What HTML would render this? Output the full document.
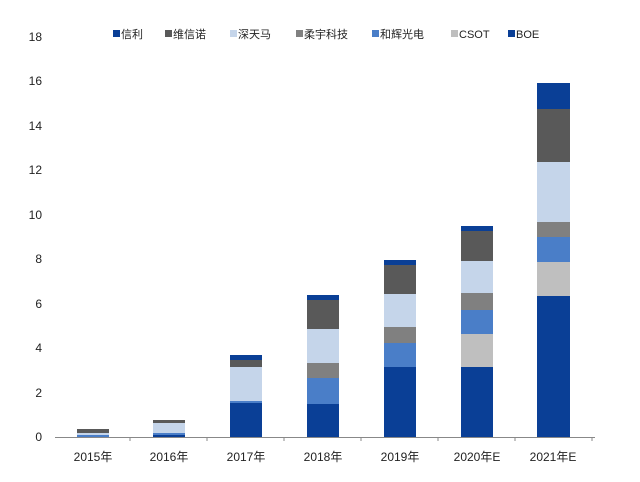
<!DOCTYPE html><html><head><meta charset="utf-8"><style>body{margin:0;background:#fff}svg{display:block}text{font-family:"Liberation Sans","Noto Sans CJK SC",sans-serif}</style></head><body>
<svg width="640" height="482" xmlns="http://www.w3.org/2000/svg">
<g font-size="12" fill="#222" text-anchor="end">
<text x="42" y="441">0</text><text x="42" y="397">2</text><text x="42" y="352">4</text><text x="42" y="308">6</text><text x="42" y="263">8</text><text x="42" y="219">10</text><text x="42" y="174">12</text><text x="42" y="130">14</text><text x="42" y="85">16</text><text x="42" y="41">18</text>
</g>
<g id="bars">
<!-- 2015 -->
<rect x="77" y="429" width="32" height="4" fill="#595959"/><rect x="77" y="433" width="32" height="2" fill="#c5d5ea"/><rect x="77" y="435" width="32" height="2" fill="#4a7ec8"/>
<!-- 2016 -->
<rect x="153" y="420" width="32" height="3" fill="#595959"/><rect x="153" y="423" width="32" height="10" fill="#c5d5ea"/><rect x="153" y="433" width="32" height="2" fill="#4a7ec8"/><rect x="153" y="435" width="32" height="2" fill="#0a3f96"/>
<!-- 2017 -->
<rect x="230" y="355" width="32" height="5" fill="#0a3f96"/><rect x="230" y="360" width="32" height="7" fill="#595959"/><rect x="230" y="367" width="32" height="34" fill="#c5d5ea"/><rect x="230" y="401" width="32" height="2" fill="#4a7ec8"/><rect x="230" y="403" width="32" height="34" fill="#0a3f96"/>
<!-- 2018 -->
<rect x="307" y="295" width="32" height="5" fill="#0a3f96"/><rect x="307" y="300" width="32" height="29" fill="#595959"/><rect x="307" y="329" width="32" height="34" fill="#c5d5ea"/><rect x="307" y="363" width="32" height="15" fill="#808080"/><rect x="307" y="378" width="32" height="26" fill="#4a7ec8"/><rect x="307" y="404" width="32" height="33" fill="#0a3f96"/>
<!-- 2019 -->
<rect x="384" y="260" width="32" height="5" fill="#0a3f96"/><rect x="384" y="265" width="32" height="29" fill="#595959"/><rect x="384" y="294" width="32" height="33" fill="#c5d5ea"/><rect x="384" y="327" width="32" height="16" fill="#808080"/><rect x="384" y="343" width="32" height="24" fill="#4a7ec8"/><rect x="384" y="367" width="32" height="70" fill="#0a3f96"/>
<!-- 2020 -->
<rect x="461" y="226" width="32" height="5" fill="#0a3f96"/><rect x="461" y="231" width="32" height="30" fill="#595959"/><rect x="461" y="261" width="32" height="32" fill="#c5d5ea"/><rect x="461" y="293" width="32" height="17" fill="#808080"/><rect x="461" y="310" width="32" height="24" fill="#4a7ec8"/><rect x="461" y="334" width="32" height="33" fill="#bfbfbf"/><rect x="461" y="367" width="32" height="70" fill="#0a3f96"/>
<!-- 2021 -->
<rect x="537" y="83" width="33" height="26" fill="#0a3f96"/><rect x="537" y="109" width="33" height="53" fill="#595959"/><rect x="537" y="162" width="33" height="60" fill="#c5d5ea"/><rect x="537" y="222" width="33" height="15" fill="#808080"/><rect x="537" y="237" width="33" height="25" fill="#4a7ec8"/><rect x="537" y="262" width="33" height="34" fill="#bfbfbf"/><rect x="537" y="296" width="33" height="141" fill="#0a3f96"/>
</g>
<line x1="55" y1="437.5" x2="595" y2="437.5" stroke="#888" stroke-width="1"/>
<g stroke="#888"><line x1="130" y1="437" x2="130" y2="441"/><line x1="207" y1="437" x2="207" y2="441"/><line x1="284" y1="437" x2="284" y2="441"/><line x1="361" y1="437" x2="361" y2="441"/><line x1="438" y1="437" x2="438" y2="441"/><line x1="515" y1="437" x2="515" y2="441"/><line x1="592" y1="437" x2="592" y2="441"/></g>
<g font-size="12" fill="#222" text-anchor="middle">
<text x="93" y="461">2015年</text><text x="169" y="461">2016年</text><text x="246" y="461">2017年</text><text x="323" y="461">2018年</text><text x="400" y="461">2019年</text><text x="477" y="461">2020年E</text><text x="553" y="461">2021年E</text>
</g>
<g font-size="11" fill="#222">
<rect x="113" y="30" width="7" height="7" fill="#0a3f96"/><text x="121" y="38">信利</text>
<rect x="165" y="30" width="7" height="7" fill="#595959"/><text x="173" y="38">维信诺</text>
<rect x="230" y="30" width="7" height="7" fill="#c5d5ea"/><text x="238" y="38">深天马</text>
<rect x="296" y="30" width="7" height="7" fill="#808080"/><text x="304" y="38">柔宇科技</text>
<rect x="372" y="30" width="7" height="7" fill="#4a7ec8"/><text x="380" y="38">和辉光电</text>
<rect x="451" y="30" width="7" height="7" fill="#bfbfbf"/><text x="459" y="38">CSOT</text>
<rect x="508" y="30" width="7" height="7" fill="#0a3f96"/><text x="516" y="38">BOE</text>
</g>
</svg></body></html>
